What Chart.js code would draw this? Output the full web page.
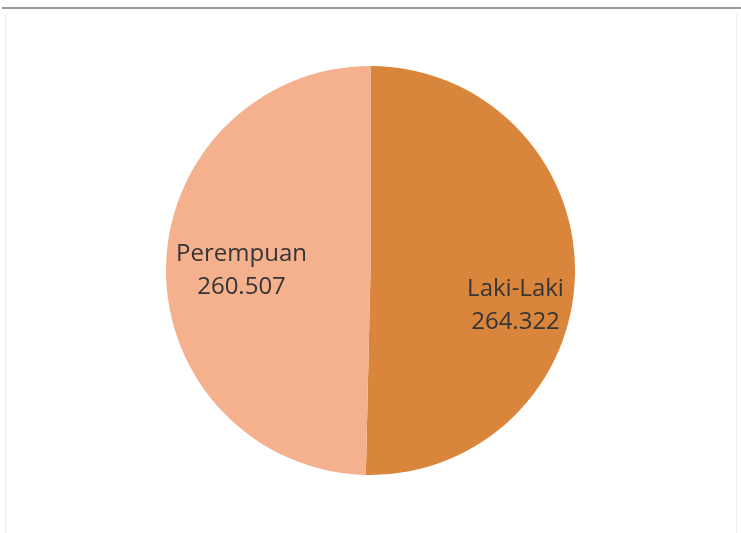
<!DOCTYPE html>
<html>
<head>
<meta charset="utf-8">
<script src="https://cdn.jsdelivr.net/npm/chart.js@4"></script>
<style>
    html, body { margin: 0; padding: 0; background: #fff; }
    #wrap { position: relative; width: 741px; height: 533px; overflow: hidden; }
    #topline { position: absolute; left: 2px; right: 0; top: 7px; height: 2px; background: #9a9a9a; }
    #frame { position: absolute; left: 5px; right: 4px; top: 14px; bottom: -2px;
             border-left: 1px solid #ececec; border-right: 1px solid #ececec; }
    canvas { position: absolute; left: 0; top: 0; }
</style>
</head>
<body>
<div id="wrap">
    <div id="topline"></div>
    <div id="frame"></div>
    <canvas id="pie" width="741" height="533"></canvas>
</div>
<script>
    "use strict";

    // Data
    var labels = ["Laki-Laki", "Perempuan"];
    var values = [264322, 260507];
    var valueText = ["264.322", "260.507"];

    // Slice colours and label offsets from the slice centre
    var colors = ["#d9853c", "#f5b18d"];
    var labelOffsets = [[145, 36], [-129, 1]];

    // Draw name + value inside each slice
    var sliceLabels = {
        id: "sliceLabels",
        afterDatasetsDraw: function (chart) {
            var ctx = chart.ctx;
            var meta = chart.getDatasetMeta(0);
            ctx.save();
            ctx.font = "24px 'Open Sans'";
            ctx.fillStyle = "#353535";
            ctx.textAlign = "center";
            ctx.textBaseline = "middle";
            meta.data.forEach(function (arc, i) {
                var cx = arc.x + labelOffsets[i][0];
                var cy = arc.y + labelOffsets[i][1];
                ctx.fillText(labels[i], cx, cy - 17);
                ctx.fillText(valueText[i], cx, cy + 16);
            });
            ctx.restore();
        }
    };

    new Chart(document.getElementById("pie").getContext("2d"), {
        type: "pie",
        data: {
            labels: labels,
            datasets: [{
                data: values,
                backgroundColor: colors,
                borderWidth: 0
            }]
        },
        options: {
            responsive: false,
            animation: false,
            layout: { padding: { left: 100, right: 100, top: 66, bottom: 58 } },
            plugins: {
                legend: { display: false },
                tooltip: { enabled: false }
            }
        },
        plugins: [sliceLabels]
    });
</script>
</body>
</html>
